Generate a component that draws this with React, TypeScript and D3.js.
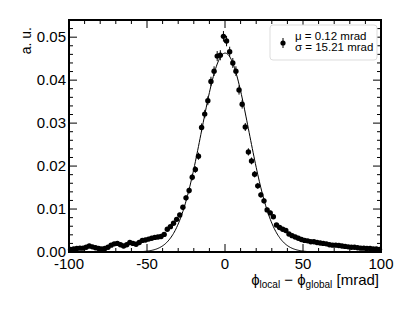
import React, { useEffect, useRef } from 'react';
import * as d3 from 'd3';

// bin centres, 2 mrad bins from -100 to 100
const binCenters: number[] = d3.range(-99, 100, 2);

// normalised entries per bin (a.u.)
const binValues: number[] = [
  0.0006, 0.0007, 0.0008, 0.0009, 0.0009, 0.0011, 0.0014, 0.0012, 0.0010, 0.0008,
  0.0007, 0.0008, 0.0011, 0.0016, 0.0019, 0.0020, 0.0017, 0.0014, 0.0017, 0.0022,
  0.0020, 0.0018, 0.0022, 0.0027, 0.0028, 0.0030, 0.0032, 0.0034, 0.0035, 0.0036,
  0.0041, 0.0053, 0.0059, 0.0067, 0.0076, 0.0086, 0.0104, 0.0126, 0.0143, 0.0174,
  0.0192, 0.0223, 0.0290, 0.0321, 0.0352, 0.0397, 0.0421, 0.0456, 0.0458, 0.0502,
  0.0491, 0.0466, 0.0440, 0.0421, 0.0377, 0.0344, 0.0291, 0.0233, 0.0212, 0.0181,
  0.0154, 0.0133, 0.0119, 0.0098, 0.0091, 0.0082, 0.0063, 0.0057, 0.0053, 0.0050,
  0.0042, 0.0038, 0.0035, 0.0032, 0.0029, 0.0027, 0.0026, 0.0024, 0.0024, 0.0022,
  0.0021, 0.0020, 0.0019, 0.0017, 0.0016, 0.0016, 0.0015, 0.0014, 0.0013, 0.0012,
  0.0011, 0.0011, 0.0010, 0.0009, 0.0009, 0.0008, 0.0008, 0.0007, 0.0007, 0.0006,
];

// gaussian fit parameters
const fitMu = 0.12;
const fitSigma = 15.21;
const fitAmp = 0.0463;

const xTicks = [-100, -50, 0, 50, 100];
const yTicks = [0, 0.01, 0.02, 0.03, 0.04, 0.05];
const yTickLabels = ['0.00', '0.01', '0.02', '0.03', '0.04', '0.05'];
const legendLines = ['μ = 0.12 mrad', 'σ = 15.21 mrad'];

const W = 415, H = 312;
const margin = { top: 20, right: 34, bottom: 60, left: 69 };

function App() {
  const ref = useRef<SVGSVGElement>(null);

  useEffect(() => {
    const svg = d3.select(ref.current);
    svg.selectAll('*').remove();
    const w = W - margin.left - margin.right;
    const h = H - margin.top - margin.bottom;

    const x = d3.scaleLinear().domain([-100, 100]).range([0, w]);
    const y = d3.scaleLinear().domain([0, 0.054]).range([h, 0]);

    const g = svg.append('g').attr('transform', `translate(${margin.left},${margin.top})`);

    g.append('clipPath').attr('id', 'frame').append('rect').attr('width', w).attr('height', h);

    // ticks (inward, on all four sides)
    const minorX = d3.range(-100, 101, 10);
    const minorY = d3.range(0, 0.0541, 0.002);
    const tk = g.append('g').attr('stroke', '#000').attr('stroke-width', 1);
    minorX.forEach(v => {
      const len = xTicks.includes(v) ? 8 : 4;
      tk.append('line').attr('x1', x(v)).attr('x2', x(v)).attr('y1', h).attr('y2', h - len);
      tk.append('line').attr('x1', x(v)).attr('x2', x(v)).attr('y1', 0).attr('y2', len);
    });
    minorY.forEach(v => {
      const major = yTicks.some(t => Math.abs(t - v) < 1e-6);
      const len = major ? 8 : 4;
      tk.append('line').attr('x1', 0).attr('x2', len).attr('y1', y(v)).attr('y2', y(v));
      tk.append('line').attr('x1', w).attr('x2', w - len).attr('y1', y(v)).attr('y2', y(v));
    });

    // tick labels
    const font = "'Liberation Sans', Arial, sans-serif";
    g.selectAll('.xl').data(xTicks).join('text')
      .attr('x', d => x(d)).attr('y', h + 17)
      .attr('text-anchor', 'middle').attr('font-family', font).attr('font-size', 15)
      .text(d => String(d));
    g.selectAll('.yl').data(yTicks).join('text')
      .attr('x', -3).attr('y', d => y(d) + 5)
      .attr('text-anchor', 'end').attr('font-family', font).attr('font-size', 15)
      .text((d, i) => yTickLabels[i]);

    // axis titles
    g.append('text')
      .attr('transform', `translate(${-38},${7}) rotate(-90)`)
      .attr('text-anchor', 'end').attr('font-family', font).attr('font-size', 14)
      .text('a. u.');
    const xt = g.append('text')
      .attr('x', w - 2).attr('y', h + 33)
      .attr('text-anchor', 'end').attr('font-family', font).attr('font-size', 15);
    xt.append('tspan').text('ϕ');
    xt.append('tspan').attr('font-size', 10).attr('dy', 3).text('local');
    xt.append('tspan').attr('dy', -3).text(' − ϕ');
    xt.append('tspan').attr('font-size', 10).attr('dy', 3).text('global');
    xt.append('tspan').attr('dy', -3).text(' [mrad]');

    // fit curve
    const curveX = d3.range(-100, 100.01, 0.5);
    const gauss = (v: number) => fitAmp * Math.exp(-((v - fitMu) ** 2) / (2 * fitSigma * fitSigma));
    g.append('path')
      .attr('clip-path', 'url(#frame)')
      .attr('d', d3.line<number>().x(d => x(d)).y(d => y(gauss(d)))(curveX))
      .attr('fill', 'none').attr('stroke', '#000').attr('stroke-width', 1);

    // data points with error bars
    const pts = g.append('g');
    binCenters.forEach((c, i) => {
      const v = binValues[i];
      const err = Math.sqrt(v * 3e-5);
      pts.append('line').attr('x1', x(c)).attr('x2', x(c))
        .attr('y1', y(v - err)).attr('y2', y(v + err))
        .attr('stroke', '#000').attr('stroke-width', 1);
      pts.append('circle').attr('cx', x(c)).attr('cy', y(v)).attr('r', 2.7).attr('fill', '#000');
    });

    // frame
    g.append('rect').attr('width', w).attr('height', h)
      .attr('fill', 'none').attr('stroke', '#000').attr('stroke-width', 2);

    // legend
    const lg = g.append('g').attr('transform', `translate(${270 - margin.left},${25 - margin.top})`);
    lg.append('rect').attr('width', 107).attr('height', 35).attr('rx', 3)
      .attr('fill', '#fff').attr('stroke', '#ddd').attr('stroke-width', 1);
    lg.append('line').attr('x1', 13).attr('x2', 13).attr('y1', 13).attr('y2', 23)
      .attr('stroke', '#000').attr('stroke-width', 1);
    lg.append('circle').attr('cx', 13).attr('cy', 18).attr('r', 2.6).attr('fill', '#000');
    lg.selectAll('.lt').data(legendLines).join('text')
      .attr('x', 25).attr('y', (d, i) => 15 + i * 11)
      .attr('font-family', font).attr('font-size', 11.5)
      .text(d => d);
  }, []);

  return <svg ref={ref} width={W} height={H}
    style={{ position: 'absolute', left: 0, top: 0, background: '#fff' }} />;
}

export default App;
